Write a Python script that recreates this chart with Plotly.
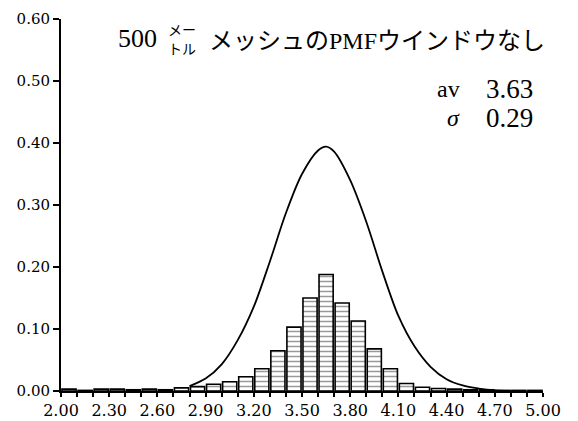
import plotly.graph_objects as go

# ---- data ----
bin_centers = [2.05, 2.15, 2.25, 2.35, 2.45, 2.55, 2.65, 2.75, 2.85, 2.95,
               3.05, 3.15, 3.25, 3.35, 3.45, 3.55, 3.65, 3.75, 3.85, 3.95,
               4.05, 4.15, 4.25, 4.35, 4.45, 4.55, 4.65, 4.75, 4.85, 4.95]
bin_values = [0.003, 0.001, 0.003, 0.003, 0.002, 0.003, 0.002, 0.005, 0.007, 0.011,
              0.015, 0.023, 0.036, 0.065, 0.103, 0.150, 0.188, 0.142, 0.113, 0.068,
              0.036, 0.012, 0.006, 0.004, 0.003, 0.002, 0.002, 0.001, 0.001, 0.001]

curve_x = [2.80, 2.90, 3.00, 3.10, 3.20, 3.30, 3.40, 3.50, 3.60, 3.65, 3.70,
           3.80, 3.90, 4.00, 4.10, 4.20, 4.30, 4.40, 4.50, 4.60, 4.70, 4.80]
curve_y = [0.008, 0.020, 0.043, 0.082, 0.136, 0.209, 0.287, 0.350, 0.388, 0.394, 0.386,
           0.340, 0.273, 0.193, 0.121, 0.072, 0.039, 0.019, 0.009, 0.004, 0.001, 0.000]

x_tick_vals = [2.0, 2.3, 2.6, 2.9, 3.2, 3.5, 3.8, 4.1, 4.4, 4.7, 5.0]
x_tick_text = ["2.00", "2.30", "2.60", "2.90", "3.20", "3.50", "3.80", "4.10", "4.40", "4.70", "5.00"]
y_tick_vals = [0.0, 0.1, 0.2, 0.3, 0.4, 0.5, 0.6]
y_tick_text = ["0.00", "0.10", "0.20", "0.30", "0.40", "0.50", "0.60"]

title_num = "500"
title_small_top = "メー"
title_small_bottom = "トル"
title_main = "メッシュのPMFウインドウなし"
stat_labels = ["av", "σ"]
stat_values = ["3.63", "0.29"]

# ---- layout geometry (window pixels; page body adds an 8px offset) ----
W, H = 578, 421
OFF = 8
PL, PR, PT, PB = 61, 543, 19, 391          # plot area in window pixels
ML, MT = PL - OFF, PT - OFF
MR, MB = W - (PR - OFF), H - (PB - OFF)
PW, PH = PR - PL, PB - PT

def px(x):
    return (x - PL) / PW

def py(y):
    return (PB - y) / PH

SERIF = "Liberation Serif, Noto Sans CJK JP, serif"

fig = go.Figure()
fig.add_trace(go.Bar(
    x=bin_centers, y=bin_values, width=0.088,
    marker=dict(color="white", line=dict(color="black", width=1.6),
                pattern=dict(shape="-", fgcolor="#333333", bgcolor="white", size=5, solidity=0.3)),
    hoverinfo="skip",
))
fig.add_trace(go.Scatter(
    x=curve_x, y=curve_y, mode="lines",
    line=dict(color="black", width=1.8, shape="spline", smoothing=0.9),
    hoverinfo="skip",
))

ann = []
ann.append(dict(text=title_num, x=px(116), y=py(39), xanchor="left", yanchor="middle",
                font=dict(family=SERIF, size=26, color="black")))
ann.append(dict(text=title_small_top, x=px(166), y=py(29), xanchor="left", yanchor="middle",
                font=dict(family="Noto Sans CJK JP", size=14, color="black")))
ann.append(dict(text=title_small_bottom, x=px(166), y=py(48), xanchor="left", yanchor="middle",
                font=dict(family="Noto Sans CJK JP", size=14, color="black")))
ann.append(dict(text=title_main, x=px(207), y=py(41), xanchor="left", yanchor="middle",
                font=dict(family=SERIF, size=24, color="black")))
ann.append(dict(text=stat_labels[0], x=px(435), y=py(89), xanchor="left", yanchor="middle",
                font=dict(family=SERIF, size=24, color="black")))
ann.append(dict(text=stat_values[0], x=px(484), y=py(89), xanchor="left", yanchor="middle",
                font=dict(family=SERIF, size=27, color="black")))
ann.append(dict(text="<i>" + stat_labels[1] + "</i>", x=px(453), y=py(118), xanchor="center", yanchor="middle",
                font=dict(family=SERIF, size=24, color="black")))
ann.append(dict(text=stat_values[1], x=px(484), y=py(118), xanchor="left", yanchor="middle",
                font=dict(family=SERIF, size=27, color="black")))
for a in ann:
    a.update(xref="paper", yref="paper", showarrow=False)

fig.update_layout(
    width=W, height=H,
    margin=dict(l=ML, r=MR, t=MT, b=MB, pad=0),
    plot_bgcolor="white", paper_bgcolor="white",
    showlegend=False,
    annotations=ann,
)
fig.update_xaxes(
    range=[2.0, 5.0], tickvals=x_tick_vals, ticktext=x_tick_text,
    ticks="outside", ticklen=4, tickwidth=1.5, tickcolor="black",
    minor=dict(dtick=0.1, tick0=2.0, ticks="outside", ticklen=4, tickwidth=1.5, tickcolor="black"),
    showline=True, linewidth=2, linecolor="black",
    showgrid=False, zeroline=False, automargin=False, ticklabeloverflow="allow",
    tickfont=dict(family="DejaVu Serif", size=16, color="black"),
)
fig.update_yaxes(
    range=[0, 0.6], tickvals=y_tick_vals, ticktext=y_tick_text,
    ticks="outside", ticklen=6, tickwidth=1.5, tickcolor="black",
    showline=True, linewidth=2, linecolor="black",
    showgrid=False, zeroline=False, automargin=False, ticklabeloverflow="allow",
    tickfont=dict(family="DejaVu Serif", size=15, color="black"),
)

fig.write_html("out.html")
